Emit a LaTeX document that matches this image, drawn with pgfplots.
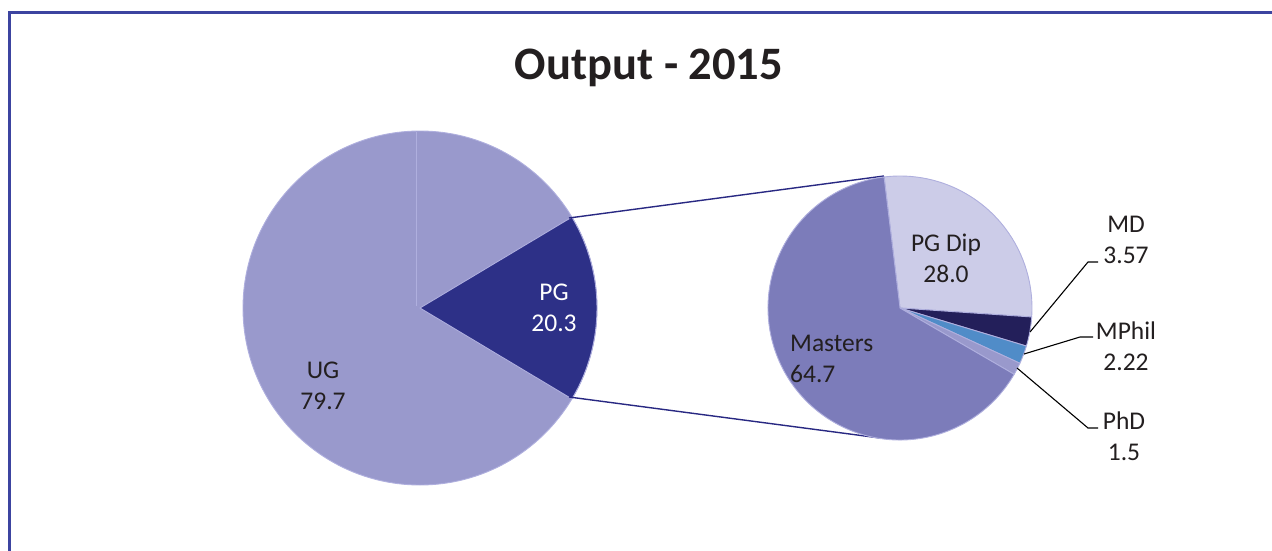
\documentclass[border=0pt]{standalone}
\usepackage{pgfplots}
\pgfplotsset{compat=1.18}
\usepackage{pgfplotstable}
\usepackage{fontspec}
\setmainfont{Carlito}

\definecolor{cUG}{RGB}{153,153,204}
\definecolor{cPG}{RGB}{45,48,135}
\definecolor{c0}{RGB}{204,204,232}
\definecolor{c1}{RGB}{35,31,90}
\definecolor{c2}{RGB}{80,140,200}
\definecolor{c3}{RGB}{153,153,204}
\definecolor{c4}{RGB}{124,124,186}
\definecolor{pieedge}{RGB}{175,175,222}
\definecolor{conn}{RGB}{40,40,130}
\definecolor{framec}{RGB}{60,68,160}
\definecolor{textc}{RGB}{35,31,32}

% second pie: breakdown of PG
\pgfplotstableread{
name value
PGDip 28.0
MD 3.57
MPhil 2.22
PhD 1.5
Masters 64.7
}\pgtab
% first pie
\pgfplotstableread{
name value
UG 79.7
PG 20.3
}\maintab

\newcommand\slice[6]{%
  \fill[#6, draw=pieedge, line width=0.9pt, line join=round]
    (axis cs:#1,#2) -- ++(#4:#3pt) arc[start angle=#4, end angle=#5, radius=#3pt] -- cycle;}

\begin{document}
\begin{tikzpicture}
\xdef\run{96.9}
\foreach \i in {0,...,4}{%
  \pgfplotstablegetelem{\i}{value}\of\pgtab
  \pgfmathsetmacro\e{\run-3.6*\pgfplotsretval}%
  \expandafter\xdef\csname aS\i\endcsname{\run}%
  \expandafter\xdef\csname aE\i\endcsname{\e}%
  \xdef\run{\e}%
}
\begin{axis}[
  width=1272pt, height=551pt, scale only axis,
  xmin=0, xmax=1272, ymin=0, ymax=551, y dir=reverse,
  hide axis, clip=false]
% frame
\draw[framec, line width=3pt] (axis cs:9,553) -- (axis cs:9,13) -- (axis cs:1274,13);
% title
\node[anchor=base, text=textc, font=\bfseries\fontsize{46.5}{50}\selectfont] at (axis cs:649,80) {Output - 2015};
% first pie
\fill[cUG, draw=pieedge, line width=0.9pt] (axis cs:420,308) circle[radius=177pt];
\draw[pieedge, line width=0.9pt] (axis cs:416.5,306) -- (axis cs:416.5,131.5);
\slice{420}{308}{177}{30.9}{-30.9}{cPG}
% connectors
\draw[conn, line width=1.4pt] (axis cs:569,218) -- (axis cs:884,176);
\draw[conn, line width=1.4pt] (axis cs:569,397) -- (axis cs:880,438);
% second pie
\pgfplotsinvokeforeach{0,...,4}{%
  \slice{900}{308}{132}{\csname aS#1\endcsname}{\csname aE#1\endcsname}{c#1}}
% leader lines
\draw[black, line width=1.1pt] (axis cs:1030,332) -- (axis cs:1088,262) -- (axis cs:1098,262);
\draw[black, line width=1.1pt] (axis cs:1024,354) -- (axis cs:1080,337) -- (axis cs:1093,337);
\draw[black, line width=1.1pt] (axis cs:1017,368) -- (axis cs:1088,428) -- (axis cs:1098,428);
% labels
\tikzset{lab/.style={text=textc, align=center, font=\fontsize{25.5}{31}\selectfont, inner sep=0pt}}
\node[lab] at (axis cs:323,386) {UG\\79.7};
\node[lab, text=white] at (axis cs:554,308) {PG\\20.3};
\node[lab] at (axis cs:946,258) {PG Dip\\28.0};
\node[lab, align=left, anchor=west] at (axis cs:790,359) {Masters\\64.7};
\node[lab] at (axis cs:1126,240) {MD\\3.57};
\node[lab] at (axis cs:1126,346) {MPhil\\2.22};
\node[lab] at (axis cs:1124,436) {PhD\\1.5};
\end{axis}
\pgfresetboundingbox
\path (0,0) rectangle (1272pt,551pt);
\end{tikzpicture}
\end{document}
